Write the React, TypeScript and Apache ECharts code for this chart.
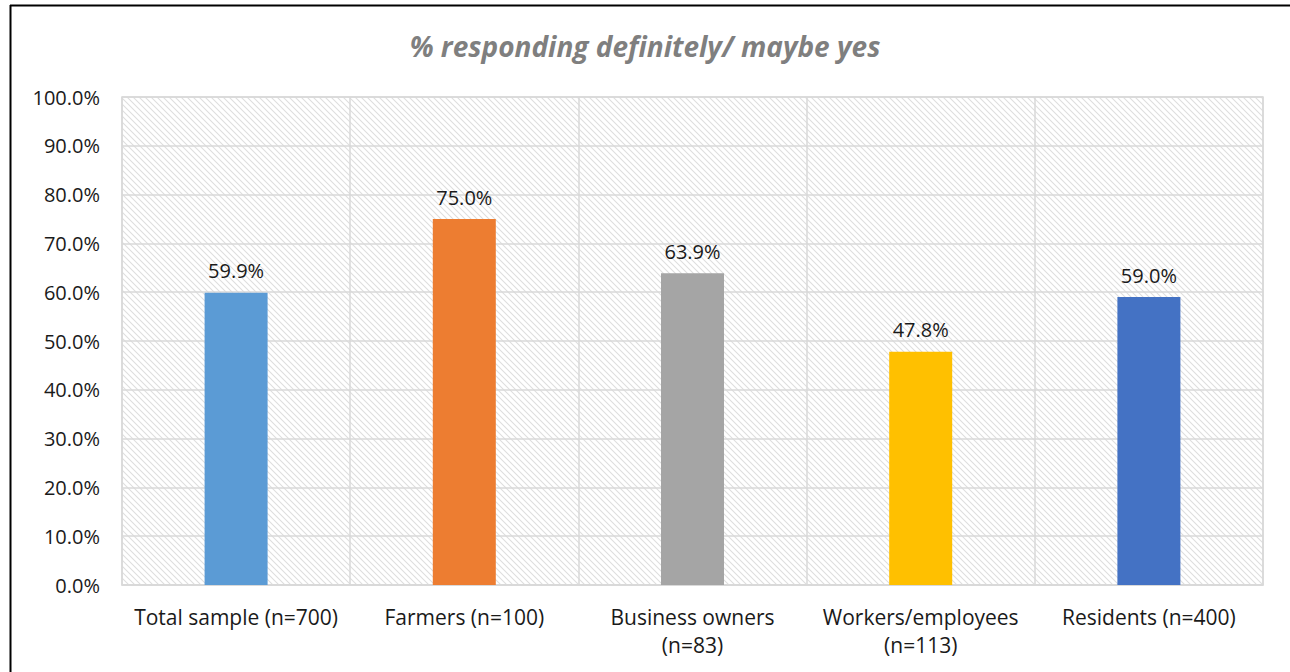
import React, { useEffect, useRef } from "react";
import * as echarts from "echarts";

const titleText = "% responding definitely/ maybe yes";
const categories = [
  "Total sample (n=700)",
  "Farmers (n=100)",
  "Business owners\n(n=83)",
  "Workers/employees\n(n=113)",
  "Residents (n=400)",
];
const values = [59.9, 75.0, 63.9, 47.8, 59.0];
const barColors = ["#5B9BD5", "#ED7D31", "#A5A5A5", "#FFC000", "#4472C4"];
const yMin = 0;
const yMax = 100;
const yStep = 10;

function makeHatch(): HTMLCanvasElement {
  const c = document.createElement("canvas");
  c.width = 6;
  c.height = 6;
  const ctx = c.getContext("2d")!;
  ctx.fillStyle = "#ffffff";
  ctx.fillRect(0, 0, 6, 6);
  ctx.strokeStyle = "#dedede";
  ctx.lineWidth = 1.1;
  ctx.beginPath();
  ctx.moveTo(-1, -1);
  ctx.lineTo(7, 7);
  ctx.moveTo(-4, 2);
  ctx.lineTo(4, 10);
  ctx.moveTo(2, -4);
  ctx.lineTo(10, 4);
  ctx.stroke();
  return c;
}

export default function App() {
  const ref = useRef<HTMLDivElement>(null);
  useEffect(() => {
    if (!ref.current) return;
    const chart = echarts.init(ref.current, undefined, { renderer: "svg" });
    const font = "'Open Sans', 'Liberation Sans', sans-serif";
    const hatch = makeHatch();
    chart.setOption({
      animation: false,
      backgroundColor: "#ffffff",
      textStyle: { fontFamily: font },
      title: {
        text: titleText,
        left: "center",
        top: 27,
        textStyle: {
          fontFamily: font,
          fontSize: 28,
          fontWeight: "bold",
          fontStyle: "italic",
          color: "#7F7F7F",
        },
      },
      graphic: [
        {
          type: "line",
          shape: { x1: 10, y1: 5.5, x2: 1290, y2: 5.5 },
          style: { stroke: "#000", lineWidth: 2 },
        },
        {
          type: "line",
          shape: { x1: 10.5, y1: 5, x2: 10.5, y2: 672 },
          style: { stroke: "#000", lineWidth: 2 },
        },
      ],
      grid: {
        left: 122,
        right: 27,
        top: 97,
        bottom: 87,
        show: true,
        backgroundColor: { image: hatch, repeat: "repeat" },
        borderColor: "#D9D9D9",
        borderWidth: 1.5,
      },
      xAxis: {
        type: "category",
        data: categories,
        axisLine: { show: true, lineStyle: { color: "#D9D9D9", width: 1.5 } },
        axisTick: { show: false },
        splitLine: { show: true, interval: 0, lineStyle: { color: "#D9D9D9", width: 1.5 } },
        axisLabel: {
          interval: 0,
          margin: 18,
          fontSize: 21,
          lineHeight: 28,
          color: "#1A1A1A",
          fontFamily: font,
        },
      },
      yAxis: {
        type: "value",
        min: yMin,
        max: yMax,
        interval: yStep,
        axisLine: { show: false },
        axisTick: { show: false },
        splitLine: { show: true, lineStyle: { color: "#D9D9D9", width: 1.5 } },
        axisLabel: {
          margin: 22,
          fontSize: 20,
          color: "#1A1A1A",
          fontFamily: font,
          formatter: (v: number) => v.toFixed(1) + "%",
        },
      },
      series: [
        {
          type: "bar",
          barWidth: 63,
          data: values.map((v, i) => ({ value: v, itemStyle: { color: barColors[i] } })),
          label: {
            show: true,
            position: "top",
            distance: 12,
            fontSize: 20,
            color: "#1A1A1A",
            fontFamily: font,
            formatter: (p: any) => Number(p.value).toFixed(1) + "%",
          },
        },
      ],
    });
    return () => chart.dispose();
  }, []);
  return (
    <div
      ref={ref}
      style={{ position: "fixed", left: 0, top: 0, width: 1290, height: 672 }}
    />
  );
}
